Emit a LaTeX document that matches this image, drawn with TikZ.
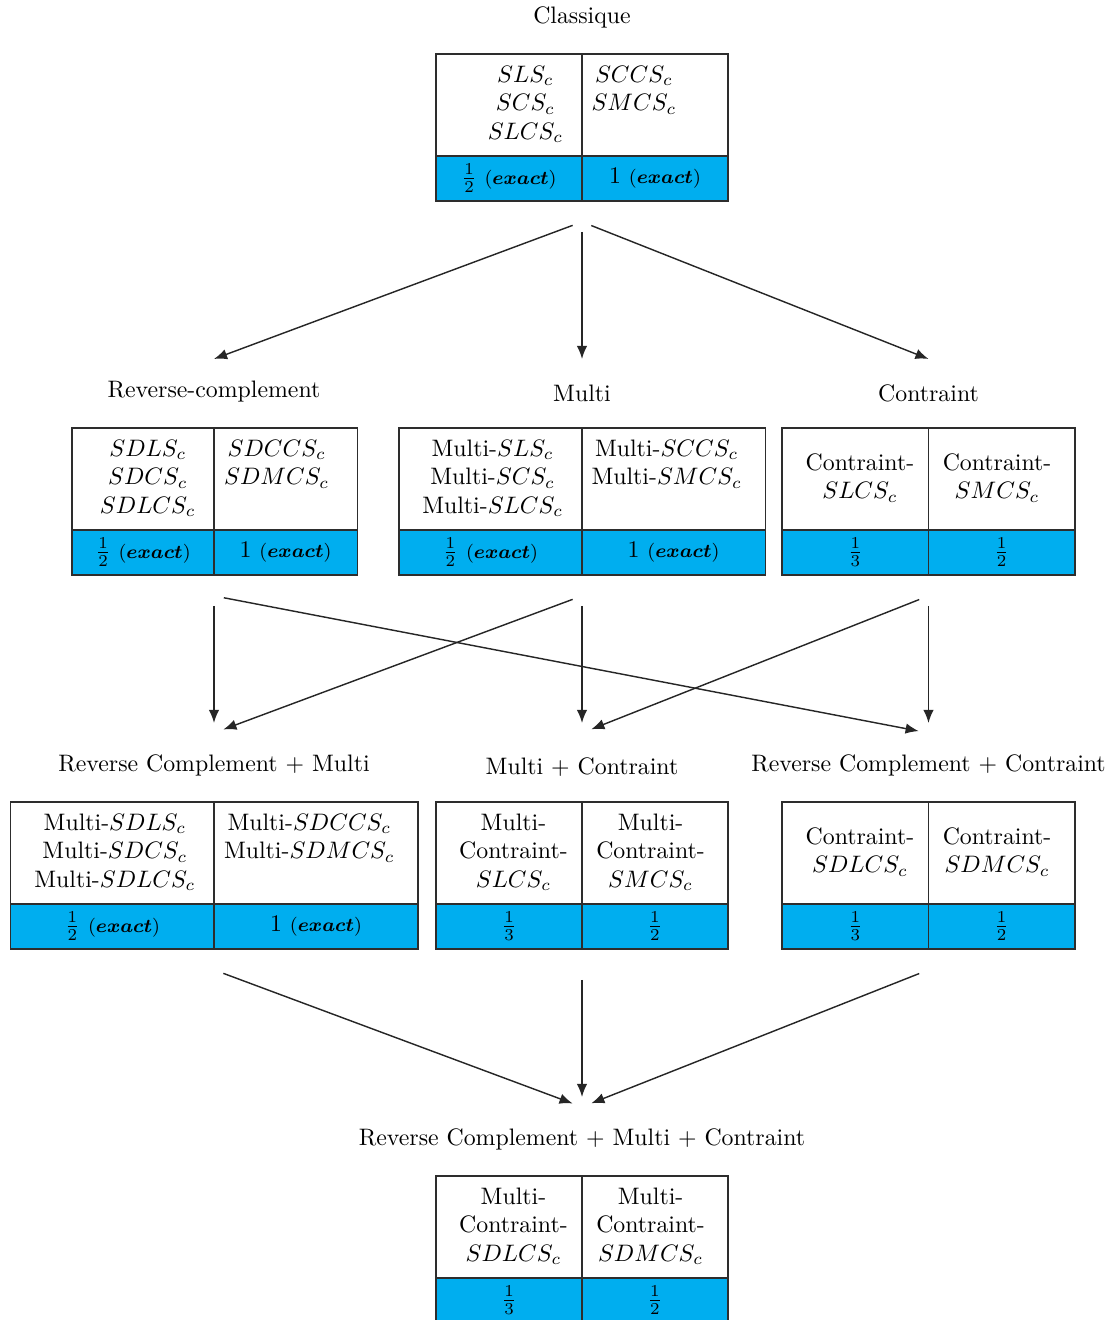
\documentclass[tikz,border=0pt]{standalone}
\usepackage{amsmath}
\usepackage{amssymb}
\usepackage{xcolor}
\definecolor{cellcyan}{RGB}{0,174,239}
\definecolor{gridgray}{RGB}{45,45,45}
\usepackage{tikz}
\usetikzlibrary{positioning,arrows.meta,calc}
\tikzset{
  topcell/.style ={rectangle,draw=gridgray,fill=white,line width=0.5pt,
                   minimum height=42.8pt,inner sep=0pt,outer sep=0pt},
  valcell/.style ={rectangle,draw=gridgray,fill=cellcyan,line width=0.5pt,
                   minimum height=18.9pt,inner sep=0pt,outer sep=0pt,align=center},
  heading/.style ={inner sep=.3333em,outer sep=0pt},
  port/.style    ={circle,minimum size=8.4pt,inner sep=0pt,outer sep=0pt},
  flow/.style    ={-{Latex[length=5.5pt,width=4.4pt]},semithick,draw=black!85},
}
\newcommand{\exact}{{\footnotesize$(\boldsymbol{exact})$}}
\newcommand{\tablo}[8]{%
  \coordinate (#1) at #2;
  \node[topcell,minimum width=#3,anchor=north east] (#1-l) at (#1) {};
  \node[topcell,minimum width=#4,anchor=north west] (#1-r) at (#1) {};
  \node[valcell,minimum width=#3,below=0pt of #1-l] (#1-lv) {#7};
  \node[valcell,minimum width=#4,below=0pt of #1-r] (#1-rv) {#8};
  \draw[gridgray,line width=1pt] (#1-lv.north west) -- (#1-rv.north east);
  \node[inner sep=0pt] (#1-txt) at ($(#1-l.north west)!.5!(#1-r.south east)$)
    {\begin{tabular}{cc}#6\end{tabular}};
  \node[heading,above=7.6pt of #1] (#1-head) {#5};
  \node[port,below=4.6pt of #1-lv.south east] (#1-out) {};
  \node[port,above=24.8pt of #1] (#1-in) {};
}
\begin{document}
\begin{tikzpicture}[x=0.42pt,y=-0.42pt]
  \useasboundingbox (0,0) rectangle (1114,1320);

  \tablo{clas}{(582,54)}{61.3pt}{61.3pt}{Classique}
    {$SLS_c$ & $SCCS_c$ \\ $SCS_c$ & $SMCS_c$ \\ $SLCS_c$ & }
    {$\frac{1}{2}$\ \exact}{1 \exact}

  \tablo{rc}{(214,428)}{59.6pt}{60.1pt}{Reverse-complement}
    {$SDLS_c$ & $SDCCS_c$ \\ $SDCS_c$ & $SDMCS_c$ \\ $SDLCS_c$ & }
    {$\frac{1}{2}$\ \exact}{1 \exact}
  \tablo{multi}{(582,428)}{76.9pt}{76.9pt}{Multi}
    {Multi-$SLS_c$ & Multi-$SCCS_c$ \\ Multi-$SCS_c$ & Multi-$SMCS_c$ \\ Multi-$SLCS_c$ & }
    {$\frac{1}{2}$\ \exact}{1 \exact}
  \tablo{con}{(928.5,428)}{61.5pt}{61.5pt}{Contraint}
    {Contraint- & Contraint- \\ $SLCS_c$ & $SMCS_c$}
    {$\frac{1}{3}$}{$\frac{1}{2}$}

  \tablo{rcm}{(214,802)}{85.3pt}{85.7pt}{Reverse Complement + Multi}
    {Multi-$SDLS_c$ & Multi-$SDCCS_c$ \\ Multi-$SDCS_c$ & Multi-$SDMCS_c$ \\ Multi-$SDLCS_c$ & }
    {$\frac{1}{2}$\ \exact}{1 \exact}
  \tablo{mc}{(582,802)}{61.3pt}{61.3pt}{Multi + Contraint}
    {Multi- & Multi- \\ Contraint- & Contraint- \\ $SLCS_c$ & $SMCS_c$}
    {$\frac{1}{3}$}{$\frac{1}{2}$}
  \tablo{rcc}{(928.5,802)}{61.5pt}{61.5pt}{Reverse Complement + Contraint}
    {Contraint- & Contraint- \\ $SDLCS_c$ & $SDMCS_c$}
    {$\frac{1}{3}$}{$\frac{1}{2}$}

  \tablo{fin}{(582,1176)}{61.3pt}{61.3pt}{Reverse Complement + Multi + Contraint}
    {Multi- & Multi- \\ Contraint- & Contraint- \\ $SDLCS_c$ & $SDMCS_c$}
    {$\frac{1}{3}$}{$\frac{1}{2}$}

  \draw[flow] (clas-out) -- (rc-in.center);
  \draw[flow] (clas-out) -- (multi-in.center);
  \draw[flow] (clas-out) -- (con-in.center);
  \draw[flow] (rc-out) -- (rcm-in);
  \draw[flow] (rc-out) -- (rcc-in);
  \draw[flow] (multi-out) -- (rcm-in);
  \draw[flow] (multi-out) -- (mc-in);
  \draw[flow] (con-out) -- (mc-in);
  \draw[flow] (con-out) -- (rcc-in);
  \draw[flow] (rcm-out) -- (fin-in);
  \draw[flow] (mc-out) -- (fin-in);
  \draw[flow] (rcc-out) -- (fin-in);
\end{tikzpicture}
\end{document}
